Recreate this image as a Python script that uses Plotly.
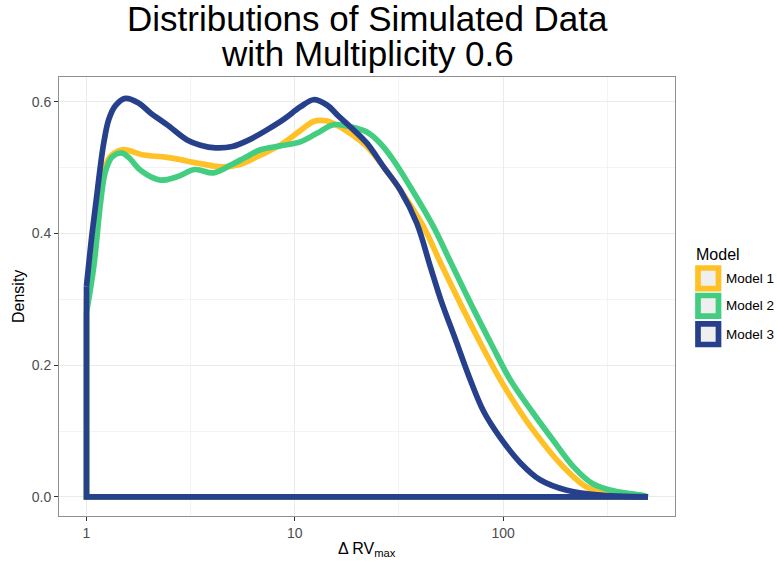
import plotly.graph_objects as go

# ---------------- data ----------------
models = ["Model 1", "Model 2", "Model 3"]
colors = ["#FFC125", "#43CD80", "#27408B"]

# x values are Delta RV_max (log scale), y values are density
m1_x = [1.0, 1.072, 1.135, 1.202, 1.288, 1.483, 1.884, 2.438, 3.524, 4.467, 5.495,
        6.839, 8.511, 10.62, 12.30, 14.13, 15.31, 18.45, 22.18, 26.67, 32.06, 41.50,
        50.12, 63.10, 79.43, 96.83, 114.8, 139.6, 187.5, 251.2, 314.1, 398.1, 495.5]
m1_y = [0.30, 0.37, 0.445, 0.49, 0.515, 0.527, 0.519, 0.5155, 0.506, 0.501, 0.505,
        0.519, 0.534, 0.556, 0.570, 0.571, 0.567, 0.552, 0.532, 0.501, 0.466, 0.41,
        0.355, 0.29, 0.228, 0.178, 0.14, 0.101, 0.051, 0.015, 0.005, 0.001, 0.0]

m2_x = [1.0, 1.084, 1.167, 1.233, 1.327, 1.483, 1.622, 1.816, 2.265, 2.723, 3.311,
        4.074, 5.012, 5.754, 6.839, 8.511, 10.62, 12.76, 15.35, 18.45, 22.18, 25.70,
        29.79, 35.81, 46.35, 56.23, 70.79, 89.13, 108.1, 139.6, 173.8, 217.3, 269.2,
        350.8, 453.9, 495.5]
m2_y = [0.28, 0.35, 0.446, 0.494, 0.516, 0.522, 0.513, 0.496, 0.481, 0.486, 0.497,
        0.492, 0.505, 0.515, 0.527, 0.533, 0.539, 0.552, 0.565, 0.562, 0.554, 0.537,
        0.511, 0.471, 0.41, 0.355, 0.29, 0.228, 0.178, 0.127, 0.086, 0.046, 0.020,
        0.008, 0.003, 0.0]

m3_x = [1.0, 1.064, 1.125, 1.167, 1.211, 1.279, 1.377, 1.538, 1.778, 2.028, 2.438,
        3.041, 3.524, 4.169, 5.012, 6.026, 7.413, 8.913, 10.62, 12.30, 14.26, 16.22,
        18.45, 22.18, 26.67, 32.06, 38.55, 44.67, 50.12, 58.88, 69.50, 80.54, 96.83,
        120.8, 150.3, 202.3, 281.8, 495.5]
m3_y = [0.32, 0.40, 0.462, 0.503, 0.538, 0.573, 0.594, 0.605, 0.598, 0.583, 0.565,
        0.542, 0.534, 0.530, 0.532, 0.542, 0.558, 0.574, 0.592, 0.603, 0.595, 0.578,
        0.562, 0.537, 0.501, 0.466, 0.415, 0.35, 0.30, 0.24, 0.178, 0.130, 0.090,
        0.052, 0.026, 0.010, 0.003, 0.0]

series_x = [m1_x, m2_x, m3_x]
series_y = [m1_y, m2_y, m3_y]

x_tick_vals = [1, 10, 100]
x_tick_text = ["1", "10", "100"]
x_minor_vals = [3.1623, 31.623, 316.23]
y_tick_vals = [0.0, 0.2, 0.4, 0.6]
y_tick_text = ["0.0", "0.2", "0.4", "0.6"]
y_minor_vals = [0.1, 0.3, 0.5]

title_lines = ["Distributions of Simulated Data", "with Multiplicity 0.6"]
x_title = "\u0394 RV<sub>max</sub>"
y_title = "Density"
legend_title = "Model"

# ---------------- layout geometry (window pixels) ----------------
W, H = 777, 562
PX0, PX1, PY0, PY1 = 59, 675, 77, 516   # panel edges in window pixels
ML, MT = PX0, PY0
MR, MB = W - PX1, H - PY1
PW, PH = PX1 - PX0, PY1 - PY0
FONT = "Liberation Sans, Arial, Helvetica, sans-serif"
LW = 5.7


def px(xp):
    return (xp - PX0) / PW


def py(yp):
    return (PY1 - yp) / PH


fig = go.Figure()

for name, col, xs, ys in zip(models, colors, series_x, series_y):
    fig.add_trace(go.Scatter(
        x=xs, y=ys, mode="lines", name=name,
        line=dict(color=col, width=LW, shape="spline", smoothing=1.0),
        showlegend=False, hoverinfo="skip"))
    fig.add_trace(go.Scatter(
        x=[xs[-1], xs[0], xs[0]], y=[0, 0, ys[0]], mode="lines", name=name,
        line=dict(color=col, width=LW), showlegend=False, hoverinfo="skip"))

fig.update_layout(
    width=W, height=H,
    margin=dict(l=ML, r=MR, t=MT, b=MB),
    paper_bgcolor="white", plot_bgcolor="white",
    font=dict(family=FONT, color="#000000"),
    showlegend=False,
)

axis_common = dict(
    tickmode="array",
    ticks="outside", ticklen=4, tickwidth=1, tickcolor="#333333",
    tickfont=dict(size=14, color="#4D4D4D", family=FONT),
    showgrid=True, gridcolor="#EBEBEB", gridwidth=1.1,
    showline=True, mirror=True, linecolor="#8F8F8F", linewidth=1,
    zeroline=False,
)
fig.update_xaxes(
    type="log", range=[-0.132, 2.825],
    tickvals=x_tick_vals, ticktext=x_tick_text,
    minor=dict(tickmode="array", tickvals=x_minor_vals, showgrid=True,
               gridcolor="#EBEBEB", gridwidth=0.6, ticks=""),
    **axis_common,
)
fig.update_yaxes(
    range=[-0.029, 0.6375],
    tickvals=y_tick_vals, ticktext=y_tick_text,
    minor=dict(tickmode="array", tickvals=y_minor_vals, showgrid=True,
               gridcolor="#EBEBEB", gridwidth=0.6, ticks=""),
    **axis_common,
)

ann = []
for i, t in enumerate(title_lines):
    ann.append(dict(text=t, xref="paper", yref="paper", x=0.5, y=py(19 + 34 * i),
                    xanchor="center", yanchor="middle", showarrow=False,
                    font=dict(size=35, color="#000000", family=FONT)))
ann.append(dict(text=x_title, xref="paper", yref="paper", x=0.5, y=py(549),
                xanchor="center", yanchor="middle", showarrow=False,
                font=dict(size=16, color="#000000", family=FONT)))
ann.append(dict(text=y_title, xref="paper", yref="paper", x=px(18), y=py(297),
                xanchor="center", yanchor="middle", showarrow=False, textangle=-90,
                font=dict(size=16, color="#000000", family=FONT)))
ann.append(dict(text=legend_title, xref="paper", yref="paper", x=px(694), y=py(254),
                xanchor="left", yanchor="middle", showarrow=False,
                font=dict(size=16, color="#000000", family=FONT)))
shapes = []
key_centers = [278.3, 305.8, 334.2]
for name, col, cy in zip(models, colors, key_centers):
    shapes.append(dict(type="rect", xref="paper", yref="paper",
                       x0=px(698), x1=px(718.5), y0=py(cy + 10.3), y1=py(cy - 10.3),
                       line=dict(color=col, width=LW), fillcolor="#EFEFEF"))
    ann.append(dict(text=name, xref="paper", yref="paper", x=px(724), y=py(cy),
                    xanchor="left", yanchor="middle", showarrow=False,
                    font=dict(size=13.5, color="#000000", family=FONT)))

fig.update_layout(annotations=ann, shapes=shapes)

fig.write_html("out.html",
               config={"displayModeBar": False, "staticPlot": True},
               post_script="document.body.style.margin='0';"
                           "document.body.style.overflow='hidden';")
